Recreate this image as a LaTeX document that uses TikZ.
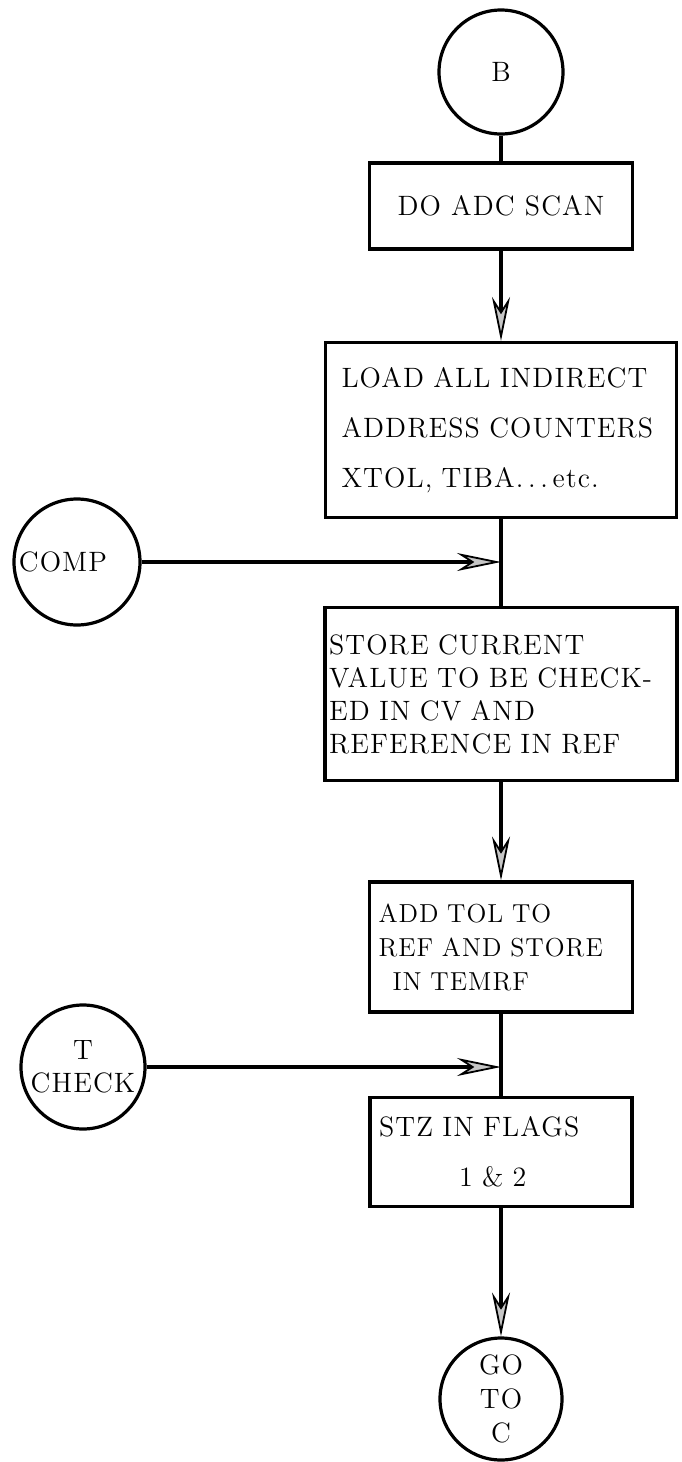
\documentclass[tikz,border=0pt]{standalone}
\usepackage{fontspec}
\setmainfont{Latin Modern Roman}[LetterSpace=4]
\usetikzlibrary{positioning,arrows.meta}

\begin{document}
\begin{tikzpicture}[x=0.5pt,y=-0.5pt,line width=1.6pt,
    procbox/.style={draw,rectangle,line width=1.6pt,inner ysep=0pt,
        align=left,font=\fontsize{14}{25}\selectfont},
    conn/.style={draw,circle,line width=1.6pt,inner sep=0pt,align=center,
        font=\fontsize{14}{17}\selectfont},
    flowarrow/.style={-{Stealth[length=22pt,width=9pt,inset=7pt,
        line width=0.9pt,fill=gray!45]}}]
    \useasboundingbox (0,0) rectangle (681,1462);
    \fill[white] (0,0) rectangle (681,1462);
    % entry
    \node[conn,minimum size=62pt] (b) at (501,72) {B};
    \node[procbox,minimum width=131.5pt,minimum height=43pt,align=center]
        (scan) at (501,206) {DO ADC SCAN};
    \node[procbox,minimum width=175.5pt,minimum height=87.5pt,
        inner xsep=8pt,text width=159.5pt] (load) at (501,430)
        {LOAD ALL INDIRECT\\ADDRESS COUNTERS\\XTOL, TIBA.\,.\,.\,etc.};
    % COMP joins here
    \node[conn,minimum size=63pt] (comp) at (77,562) {COMP\hspace*{14pt}};
    \coordinate (jcomp) at (501,562);
    \node[procbox,minimum width=176pt,minimum height=86.5pt,
        inner xsep=2pt,text width=172pt,
        font=\fontsize{14}{16.5}\selectfont] (store) at (501,694)
        {STORE CURRENT\\VALUE TO BE CHECK-\\ED IN CV AND\\REFERENCE IN REF};
    \node[procbox,minimum width=131.5pt,minimum height=65pt,
        inner xsep=4.5pt,text width=122.5pt,
        font=\fontsize{13}{17}\selectfont] (add) at (501,947)
        {ADD TOL TO\\REF AND STORE\\\hspace*{7pt}IN TEMRF};
    % T CHECK joins here
    \node[conn,minimum size=62pt,font=\fontsize{14}{16.5}\selectfont]
        (tcheck) at (83,1067) {T\\CHECK};
    \coordinate (jtchk) at (501,1067);
    \node[procbox,minimum width=131pt,minimum height=54.5pt,
        inner xsep=4.5pt,text width=122pt] (stz) at (501,1152)
        {STZ IN FLAGS\\\hspace*{40pt}1 \& 2};
    \node[conn,minimum size=61pt] (goto) at (501,1399) {GO\\TO\\C};
    % connectors
    \draw (b) -- (scan);
    \draw[flowarrow] (scan) -- (load);
    \draw (load) -- (store);
    \draw[flowarrow] (comp) -- (jcomp);
    \draw[flowarrow] (store) -- (add);
    \draw (add) -- (stz);
    \draw[flowarrow] (tcheck) -- (jtchk);
    \draw[flowarrow] (stz) -- (goto);
\end{tikzpicture}
\end{document}
